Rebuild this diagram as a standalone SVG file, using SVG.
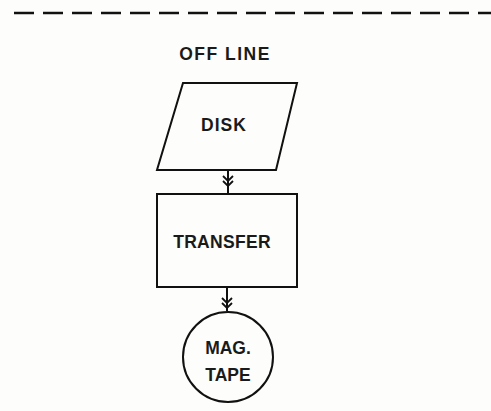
<svg xmlns="http://www.w3.org/2000/svg" width="491" height="411" viewBox="0 0 491 411">
<style>
.shape{fill:none;stroke:#111;stroke-width:2}
.lbl{font-family:"Liberation Sans",Arial,sans-serif;font-weight:bold;font-size:17.5px;fill:#1a1a1a;text-anchor:middle}
.conn{stroke:#111;stroke-width:2;fill:none}
.chev{stroke:#111;stroke-width:1.8;fill:none}
</style>
<rect width="491" height="411" fill="#fdfdfb"/>
<line x1="14" y1="13" x2="491" y2="13" stroke="#111" stroke-width="2.5" stroke-dasharray="20 9"/>
<text class="lbl" x="225" y="60" letter-spacing="1.5">OFF LINE</text>
<g id="disk">
<polygon class="shape" points="183,83 297,83 276,170 157,170"/>
<text class="lbl" x="224" y="131" letter-spacing="1">DISK</text>
</g>
<g id="transfer">
<rect class="shape" x="157" y="194" width="140" height="93"/>
<text class="lbl" x="222" y="248" letter-spacing="0.3">TRANSFER</text>
</g>
<g id="magtape">
<circle class="shape" cx="228" cy="357" r="45"/>
<text class="lbl" x="228" y="354">MAG.</text>
<text class="lbl" x="228" y="381">TAPE</text>
</g>
<g id="connectors">
<line class="conn" x1="228" y1="170" x2="228" y2="194"/>
<polyline class="chev" points="223,176 228,181 233,176"/>
<polyline class="chev" points="223,181 228,186 233,181"/>
<line class="conn" x1="227" y1="287" x2="227" y2="311"/>
<polyline class="chev" points="222,298 227,303 232,298"/>
<polyline class="chev" points="222,303 227,308 232,303"/>
</g>
</svg>
